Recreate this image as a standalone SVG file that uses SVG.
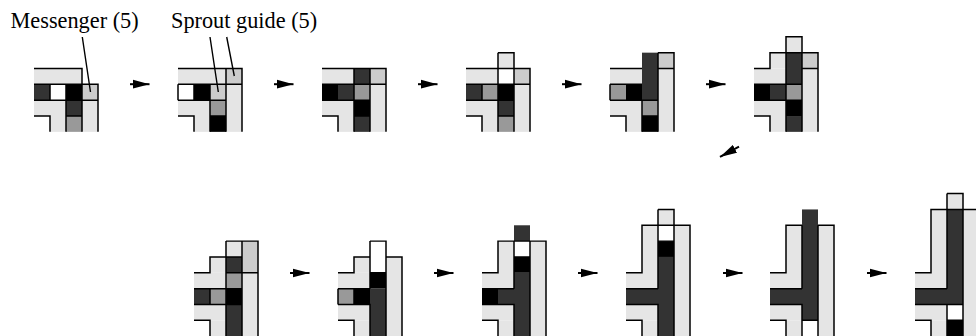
<svg xmlns="http://www.w3.org/2000/svg" width="976" height="336" viewBox="0 0 976 336">
<style>
text{font-family:"Liberation Serif","Times New Roman",serif;font-size:22.3px;fill:#000}
.l{fill:#e5e5e5}.g{fill:#ccc}.m{fill:#999}.d{fill:#333}.k{fill:#000}.w{fill:#fff}
.o{fill:none;stroke:#000;stroke-width:1.5}
.c{fill:none;stroke:#000;stroke-width:1.4}
.t{stroke-width:2}
</style>
<defs>
<marker id="a" markerUnits="userSpaceOnUse" viewBox="0 0 17 10" refX="17" refY="5" markerWidth="17" markerHeight="10" orient="auto"><path d="M0 .5L17 5L0 9.5Z" fill="#000"/></marker>
</defs>
<rect width="976" height="336" fill="#fff"/>
<g id="label-messenger"><text x="10.5" y="28">Messenger (5)</text></g>
<g id="label-sprout"><text x="171" y="28">Sprout guide (5)</text></g>

<g id="p1" transform="translate(34,68.5) scale(1,.99)">
<rect class="l" width="48" height="16"/><rect class="l" y="32" width="32" height="16"/><rect class="l" x="16" y="48" width="16" height="16"/><rect class="l" x="48" y="32" width="16" height="32"/>
<rect class="d" y="16" width="16" height="16"/><rect class="w" x="16" y="16" width="16" height="16"/><rect class="k" x="32" y="16" width="16" height="16"/><rect class="g" x="48" y="16" width="16" height="16"/>
<rect class="d" x="32" y="32" width="16" height="16"/><rect class="m" x="32" y="48" width="16" height="16"/>
<path class="o" d="M0 0H48V16M0 16H64V64M0 32H64M32 16V64M48 16V64M16 16V32M32 48H48M0 48H16V64"/>
</g>
<g id="p2" transform="translate(178,68.5) scale(1,.99)">
<rect class="l" width="48" height="16"/><rect class="g" x="48" width="16" height="16"/><rect class="l" y="32" width="32" height="16"/><rect class="l" x="16" y="48" width="16" height="16"/><rect class="l" x="48" y="16" width="16" height="48"/>
<rect class="w" y="16" width="16" height="16"/><rect class="k" x="16" y="16" width="16" height="16"/><rect class="g" x="32" y="16" width="16" height="16"/>
<rect class="m" x="32" y="32" width="16" height="16"/><rect class="k" x="32" y="48" width="16" height="16"/>
<path class="o" d="M0 0H64V64M48 0V64M0 16H64M0 32H48M32 16V64M0 16V32M16 16V32M32 48H48M0 48H16V64"/>
</g>
<g id="p3" transform="translate(322,68.5) scale(1,.99)">
<rect class="l" width="32" height="16"/><rect class="d" x="32" width="16" height="16"/><rect class="g" x="48" width="16" height="16"/><rect class="l" y="32" width="32" height="16"/><rect class="l" x="16" y="48" width="16" height="16"/><rect class="l" x="48" y="16" width="16" height="48"/>
<rect class="k" y="16" width="16" height="16"/><rect class="d" x="16" y="16" width="16" height="16"/><rect class="m" x="32" y="16" width="16" height="16"/>
<rect class="k" x="32" y="32" width="16" height="16"/><rect class="d" x="32" y="48" width="16" height="16"/>
<path class="o" d="M0 0H64V64M32 0V64M48 0V64M0 16H64M0 32H48M32 48H48M0 48H16V64"/>
</g>
<g id="p4" transform="translate(466,68.5) scale(1,.99)">
<rect class="l" x="32" y="-16" width="16" height="16"/><rect class="l" width="32" height="16"/><rect class="w" x="32" width="16" height="16"/><rect class="g" x="48" width="16" height="16"/><rect class="l" y="32" width="32" height="16"/><rect class="l" x="16" y="48" width="16" height="16"/><rect class="l" x="48" y="16" width="16" height="48"/>
<rect class="d" y="16" width="16" height="16"/><rect class="m" x="16" y="16" width="16" height="16"/><rect class="k" x="32" y="16" width="16" height="16"/>
<rect class="d" x="32" y="32" width="16" height="16"/><rect class="m" x="32" y="48" width="16" height="16"/>
<path class="o" d="M32 -16H48V64M32 -16V64M0 0H64V64M0 16H64M0 32H48M16 16V32M32 48H48M0 48H16V64"/>
</g>
<g id="p5" transform="translate(610,68.5) scale(1,.99)">
<rect class="d" x="32" y="-16" width="16" height="48"/><rect class="g" x="48" y="-16" width="16" height="16"/><rect class="l" width="32" height="16"/><rect class="l" y="32" width="32" height="16"/><rect class="l" x="16" y="48" width="16" height="16"/><rect class="l" x="48" width="16" height="64"/>
<rect class="m" y="16" width="16" height="16"/><rect class="k" x="16" y="16" width="16" height="16"/>
<rect class="m" x="32" y="32" width="16" height="16"/><rect class="k" x="32" y="48" width="16" height="16"/>
<path class="o" d="M48 -16H64V64M48 -16V64M0 0H32M48 0H64M0 16H32M0 16V32M0 32H48M32 32V64M32 48H48M0 48H16V64"/>
</g>
<g id="p6" transform="translate(754,68.5) scale(1,.99)">
<rect class="l" x="32" y="-32" width="16" height="16"/><rect class="d" x="32" y="-16" width="16" height="32"/><rect class="l" x="16" y="-16" width="16" height="16"/><rect class="l" width="32" height="16"/><rect class="g" x="48" y="-16" width="16" height="16"/><rect class="l" x="48" width="16" height="64"/><rect class="l" y="32" width="32" height="16"/><rect class="l" x="16" y="48" width="16" height="16"/>
<rect class="k" y="16" width="16" height="16"/><rect class="d" x="16" y="16" width="16" height="16"/><rect class="m" x="32" y="16" width="16" height="16"/>
<rect class="k" x="32" y="32" width="16" height="16"/><rect class="d" x="32" y="48" width="16" height="16"/>
<path class="o" d="M32 -16V-32H48V64M32 -16V64M0 0H16V-16H64V64M48 0H64M0 16H32M32 16H48M0 32H48M0 48H16V64"/>
</g>

<g id="q1" transform="translate(194,272.8) scale(1,.99)">
<rect class="l" x="32" y="-32" width="16" height="16"/><rect class="g" x="48" y="-32" width="16" height="32"/><rect class="d" x="32" y="-16" width="16" height="16"/><rect class="m" x="32" width="16" height="16"/><rect class="l" x="16" y="-16" width="16" height="16"/><rect class="l" width="32" height="16"/><rect class="l" x="48" width="16" height="64"/><rect class="l" y="32" width="32" height="16"/><rect class="l" x="16" y="48" width="16" height="16"/>
<rect class="d" y="16" width="16" height="16"/><rect class="m" x="16" y="16" width="16" height="16"/><rect class="k" x="32" y="16" width="16" height="16"/><rect class="d" x="32" y="32" width="16" height="32"/>
<path class="o" d="M32 -32H64V64M32 -32V64M48 -32V64M0 0H16V-16H48M32 0H64M0 16H48M0 32H48M16 16V32M0 48H16V64"/>
</g>
<g id="q2" transform="translate(338,272.8) scale(1,.99)">
<rect class="w" x="32" y="-32" width="16" height="32"/><rect class="k" x="32" width="16" height="16"/><rect class="d" x="32" y="16" width="16" height="48"/><rect class="l" x="16" y="-16" width="16" height="16"/><rect class="l" width="32" height="16"/><rect class="l" x="48" y="-16" width="16" height="80"/><rect class="l" y="32" width="32" height="16"/><rect class="l" x="16" y="48" width="16" height="16"/>
<rect class="m" y="16" width="16" height="16"/><rect class="k" x="16" y="16" width="16" height="16"/>
<path class="o" d="M32 -32H48V64M32 -32V16M0 0H16V-16H32M48 -16H64V64M32 0H48M0 16H32M0 16V32M16 16V32M0 32H32V64M0 48H16V64"/>
</g>
<g id="q3" transform="translate(482,272.8) scale(1,.99)">
<rect class="d" x="32" y="-48" width="16" height="16"/><rect class="w" x="32" y="-32" width="16" height="16"/><rect class="k" x="32" y="-16" width="16" height="16"/><rect class="d" x="32" width="16" height="64"/><rect class="l" x="16" y="-32" width="16" height="48"/><rect class="l" width="16" height="16"/><rect class="l" x="48" y="-32" width="16" height="96"/><rect class="l" y="32" width="32" height="16"/><rect class="l" x="16" y="48" width="16" height="16"/>
<rect class="k" y="16" width="16" height="16"/><rect class="d" x="16" y="16" width="16" height="16"/>
<path class="o" d="M0 0H16V-32H64V64M32 -32V16M48 -32V64M0 16H32M0 32H32V64M0 48H16V64M32 -16H48"/>
</g>
<g id="q4" transform="translate(626,272.8) scale(1,.99)">
<rect class="l" x="32" y="-64" width="16" height="16"/><rect class="w" x="32" y="-48" width="16" height="16"/><rect class="k" x="32" y="-32" width="16" height="16"/><rect class="d" x="32" y="-16" width="16" height="80"/><rect class="l" x="16" y="-48" width="16" height="64"/><rect class="l" width="16" height="16"/><rect class="l" x="48" y="-48" width="16" height="112"/><rect class="l" y="32" width="32" height="16"/><rect class="l" x="16" y="48" width="16" height="16"/>
<rect class="d" y="16" width="32" height="16"/>
<path class="o" d="M32 -64H48V64M32 -64V16M0 0H16V-48H64V64M0 16H32M0 32H32V64M0 48H16V64M32 -32H48"/>
</g>
<g id="q5" transform="translate(770,272.8) scale(1,.99)">
<rect class="d" x="32" y="-64" width="16" height="112"/><rect class="w" x="32" y="48" width="16" height="16"/><rect class="l" x="16" y="-48" width="16" height="64"/><rect class="l" width="16" height="16"/><rect class="l" x="48" y="-48" width="16" height="112"/><rect class="l" y="32" width="32" height="16"/><rect class="l" x="16" y="48" width="16" height="16"/>
<rect class="d" y="16" width="32" height="16"/>
<path class="o" d="M0 0H16V-48H32M48 -48H64V64M32 -48V16M48 -48V64M0 16H32M0 32H32V64M32 48H48M0 48H16V64"/>
</g>
<g id="q6" transform="translate(915,272.8) scale(1,.99)">
<rect class="l" x="32" y="-80" width="16" height="16"/><rect class="d" x="32" y="-64" width="16" height="96"/><rect class="w" x="32" y="32" width="16" height="16"/><rect class="k" x="32" y="48" width="16" height="16"/><rect class="l" x="16" y="-64" width="16" height="80"/><rect class="l" width="16" height="16"/><rect class="l" x="48" y="-64" width="16" height="128"/><rect class="l" y="32" width="32" height="16"/><rect class="l" x="16" y="48" width="16" height="16"/>
<rect class="d" y="16" width="32" height="16"/>
<path class="o" d="M0 0H16V-64H64M32 -80H48V64M32 -80V16M0 16H32M0 32H32V64M32 32H48M32 48H48M0 48H16V64"/>
</g>

<g id="connectors" class="c">
<path d="M82.3 37L90.5 92M210 37L218.3 92M226.7 37L234.3 76"/>
<g class="t">
<line x1="130" y1="84.2" x2="149.5" y2="84.2" marker-end="url(#a)"/>
<line x1="274" y1="84.2" x2="293.5" y2="84.2" marker-end="url(#a)"/>
<line x1="418" y1="84.2" x2="437.5" y2="84.2" marker-end="url(#a)"/>
<line x1="562" y1="84.2" x2="581.5" y2="84.2" marker-end="url(#a)"/>
<line x1="706" y1="84.2" x2="725.5" y2="84.2" marker-end="url(#a)"/>
<line x1="739" y1="146.7" x2="720" y2="156.9" marker-end="url(#a)"/>
<line x1="290" y1="273" x2="309.5" y2="273" marker-end="url(#a)"/>
<line x1="434" y1="273" x2="453.5" y2="273" marker-end="url(#a)"/>
<line x1="578" y1="273" x2="597.5" y2="273" marker-end="url(#a)"/>
<line x1="723" y1="273" x2="742.5" y2="273" marker-end="url(#a)"/>
<line x1="867" y1="273" x2="886.5" y2="273" marker-end="url(#a)"/>
</g>
</g>
</svg>
